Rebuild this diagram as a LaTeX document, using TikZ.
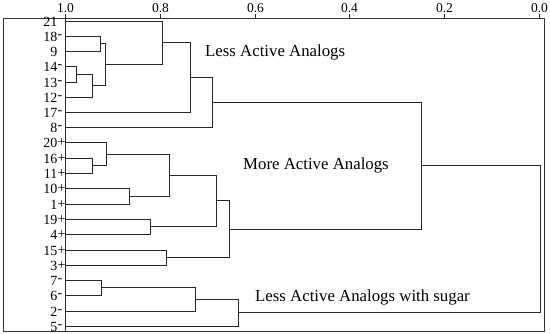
\documentclass[tikz,border=0pt]{standalone}
\usepackage{fontspec}
\setmainfont{Liberation Serif}
\begin{document}
\begin{tikzpicture}[x=1pt,y=-1pt,
  link/.style={line width=1.1pt,draw=black!85},
  frame/.style={line width=1.5pt,draw=black!80},
  leafnum/.style={anchor=east,inner sep=0pt,font=\fontsize{14}{14}\selectfont},
  leafsuf/.style={anchor=west,inner sep=0pt,font=\fontsize{14}{14}\selectfont},
  ticklab/.style={anchor=south,inner sep=0pt,font=\fontsize{13.5}{14}\selectfont},
  grouplab/.style={anchor=west,inner sep=0pt,font=\fontsize{16.8}{18}\selectfont}]
\useasboundingbox (0,0) rectangle (550,334);
% frame and axis
\draw[frame] (3.5,18.5) rectangle (544.5,331.5);
\draw[link] (65.5,18.5) -- (65.5,331.5);
\foreach \v/\xx in {1.0/65.5,0.8/160.5,0.6/255.5,0.4/349.5,0.2/444.5,0.0/539.5}{
  \node[ticklab] (t\xx) at (\xx,12.5) {\v};
  \draw[link] (\xx,18.5) -- (\xx,14.5);
}
% leaves
\foreach \n/\s/\y in {21//21.5,18/-/36.5,9//51.5,14/-/66.5,13/-/82.5,12/-/97.5,17/-/112.5,8/-/127.5,
  20/+/142.5,16/+/158.5,11/+/173.5,10/+/188.5,1/+/204.5,19/+/219.5,4/+/234.5,15/+/250.5,3/+/265.5,
  7/-/280.5,6/-/295.5,2/-/311.5,5/-/326.5}{
  \coordinate (L\n) at (65.5,\y);
  \node[leafnum] (n\n) at (57.5,\y) {\n};
  \node[leafsuf] (s\n) at (57.5,\y) {\s};
}
% merge coordinates
\coordinate (A) at (76.5,74.5);
\coordinate (B) at (92.5,85.5);
\coordinate (C) at (100.5,43.5);
\coordinate (D) at (105.5,64.5);
\coordinate (E) at (162.5,42.5);
\coordinate (F) at (190.5,77.5);
\coordinate (G) at (212.5,102.5);
\coordinate (H) at (92.5,165.5);
\coordinate (I) at (106.5,154.5);
\coordinate (J) at (129.5,196.5);
\coordinate (K) at (169.5,175.5);
\coordinate (Lm) at (150.5,226.5);
\coordinate (M) at (216.5,200.5);
\coordinate (N) at (166.5,257.5);
\coordinate (O) at (229.5,229.5);
\coordinate (P) at (421.5,165.5);
\coordinate (Q) at (101.5,287.5);
\coordinate (R) at (195.5,299.5);
\coordinate (S) at (238.5,312.5);
\coordinate (T) at (540.5,239.5);
% links
\foreach \a/\m/\b in {L14/A/L13,A/B/L12,L18/C/L9,C/D/B,L21/E/D,E/F/L17,F/G/L8,
  L16/H/L11,L20/I/H,L10/J/L1,I/K/J,L19/Lm/L4,K/M/Lm,L15/N/L3,M/O/N,G/P/O,
  L7/Q/L6,Q/R/L2,R/S/L5,P/T/S}{
  \draw[link] (\a) -| (\m) |- (\b);
}
% group labels
\node[grouplab] (g1) at (205,52.5) {Less Active Analogs};
\node[grouplab] (g2) at (243,165) {More Active Analogs};
\node[grouplab] (g3) at (255,297) {Less Active Analogs with sugar};
\end{tikzpicture}
\end{document}
